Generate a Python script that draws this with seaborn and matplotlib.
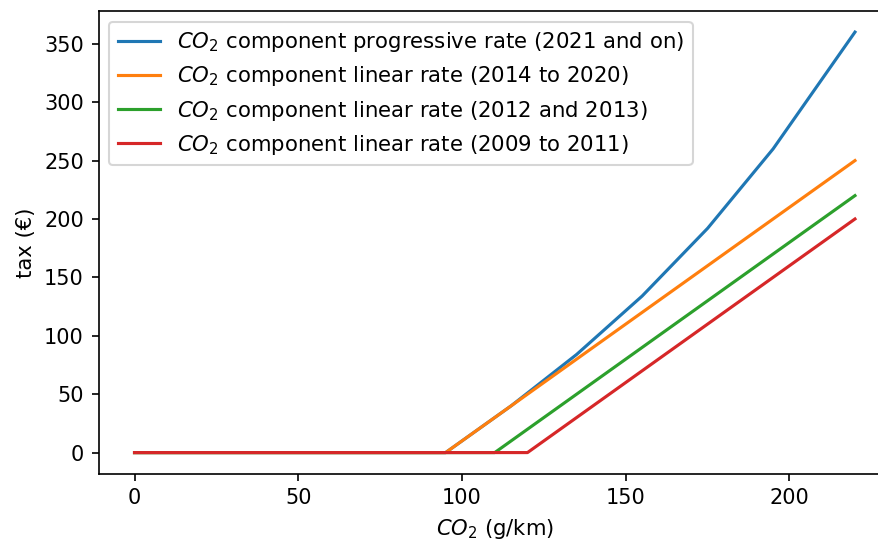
import matplotlib
matplotlib.use("Agg")
import matplotlib.pyplot as plt
import pandas as pd
import seaborn as sns

# Tax schedules: CO2 emissions (g/km) vs. annual CO2 tax component (EUR)
progressive_x = [0, 95, 115, 135, 155, 175, 195, 220]
progressive_y = [0, 0, 40, 84, 134, 192, 260, 360]

linear_2014_x = [0, 95, 220]
linear_2014_y = [0, 0, 250]

linear_2012_x = [0, 110, 220]
linear_2012_y = [0, 0, 220]

linear_2009_x = [0, 120, 220]
linear_2009_y = [0, 0, 200]

series_labels = [
    r"$CO_2$ component progressive rate (2021 and on)",
    r"$CO_2$ component linear rate (2014 to 2020)",
    r"$CO_2$ component linear rate (2012 and 2013)",
    r"$CO_2$ component linear rate (2009 to 2011)",
]

frames = []
for label, xs, ys in zip(
    series_labels,
    [progressive_x, linear_2014_x, linear_2012_x, linear_2009_x],
    [progressive_y, linear_2014_y, linear_2012_y, linear_2009_y],
):
    frames.append(pd.DataFrame({"co2": xs, "tax": ys, "rate": label}))
df = pd.concat(frames, ignore_index=True)

fig = plt.figure(figsize=(878 / 150, 545 / 150), dpi=150)
ax = fig.add_axes([0.1122, 0.1310, 0.9026, 0.8487])

sns.lineplot(
    data=df, x="co2", y="tax", hue="rate", hue_order=series_labels,
    palette=sns.color_palette("tab10", 4), estimator=None, sort=False, ax=ax,
)

handles, labels = ax.get_legend_handles_labels()
ax.legend(handles, labels, loc="upper left", fontsize=10.2, labelspacing=0.48)
ax.set_xlabel(r"$CO_2$ (g/km)", fontsize=10.15)
ax.set_ylabel("tax (€)", fontsize=10.15)

fig.savefig("out.png", dpi=150)
